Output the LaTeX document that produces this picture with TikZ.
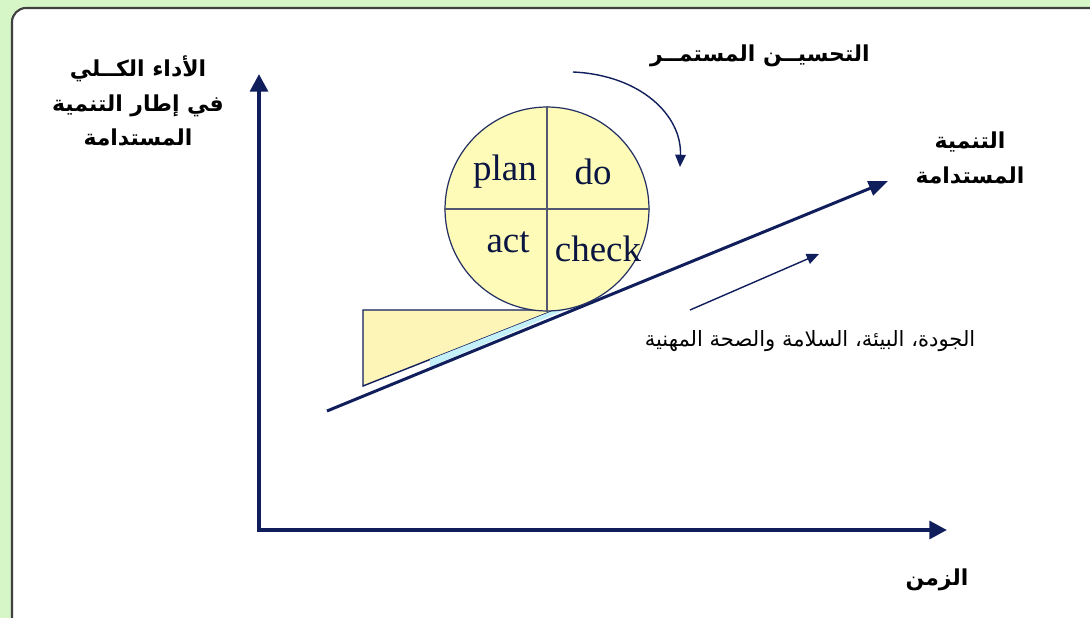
\documentclass[tikz,border=0pt]{standalone}
\usepackage{fontspec}
\setmainfont{Liberation Serif}
\newfontfamily\arabicfont[Script=Arabic]{DejaVu Sans}
\usetikzlibrary{arrows.meta}
\TeXXeTstate=1
\definecolor{axisblue}{RGB}{16,30,92}
\definecolor{cyclefill}{RGB}{253,251,183}
\definecolor{wedgefill}{RGB}{253,244,184}
\definecolor{slipfill}{RGB}{196,240,250}
\definecolor{framegreen}{RGB}{214,246,200}
\definecolor{framegray}{RGB}{64,64,64}
\tikzset{
  axis/.style={draw=axisblue, line width=2.3pt, line join=miter,
    {Triangle[length=10pt,width=10pt]}-{Triangle[length=10pt,width=10pt]}},
  trend/.style={draw=axisblue, line width=1.7pt, -{Triangle[length=11pt,width=8.5pt]}},
  thinarrow/.style={draw=axisblue, line width=0.8pt, -{Triangle[length=7pt,width=6pt]}},
  ar/.style={font=\arabicfont\bfseries\fontsize{12.5}{19.5}\selectfont, align=center},
  pdca/.style={font=\fontsize{21}{24}\selectfont, text=axisblue!70!black},
}
\begin{document}
\begin{tikzpicture}[x=0.02cm, y=-0.02cm]
  \useasboundingbox (0,0) rectangle (1090,618);
  \fill[framegreen] (0,0) rectangle (1090,618);
  \draw[framegray, line width=1.2pt, fill=white, rounded corners=8pt] (12,8) rectangle (1110,640);
  % axes
  \coordinate (o) at (259,530);
  \coordinate (ytop) at (259,74);
  \coordinate (xend) at (947,530);
  \draw[axis] (ytop) -- (o) -- (xend);
  % wedge under the wheel
  \filldraw[fill=wedgefill, draw=axisblue, line width=0.8pt] (363,310) -- (555,310) -- (363,386) -- cycle;
  \fill[slipfill] (430,359.5) -- (555,310) -- (565,310) -- (430,367) -- cycle;
  % slope
  \coordinate (ts) at (327,411);
  \coordinate (te) at (888,181);
  \draw[trend] (ts) -- (te);
  \coordinate (qs) at (690,310);
  \coordinate (qe) at (819,254);
  \draw[thinarrow] (qs) -- (qe);
  % PDCA wheel
  \node[circle, draw=axisblue!80!gray, line width=0.7pt, fill=cyclefill,
    minimum size=4.08cm, inner sep=0pt] (cyc) at (547,209) {};
  \draw[gray!60!axisblue, line width=0.8pt] (cyc.north) -- (cyc.south);
  \draw[gray!60!axisblue, line width=0.8pt] (cyc.west) -- (cyc.east);
  \node[pdca] (plan) at (505,172) {plan};
  \node[pdca] (do) at (593,172) {do};
  \node[pdca] (act) at (508,242) {act};
  \node[pdca] (check) at (598,249) {check};
  % improvement arrow
  \coordinate (cs) at (573,72);
  \coordinate (ce) at (680,167);
  \draw[thinarrow] (cs) .. controls (640,75) and (682,115) .. (ce);
  % labels
  \node[ar] (perf) at (138,101) {\beginR الأداء الكــلي\endR\\ \beginR في إطار التنمية\endR\\ \beginR المستدامة\endR};
  \node[ar] (kaizen) at (760,56) {\beginR التحسيــن المستمــر\endR};
  \node[ar] (sd) at (970,158) {\beginR التنمية\endR\\ \beginR المستدامة\endR};
  \node[ar, font=\arabicfont\fontsize{12}{14}\selectfont] (qhse) at (810,341) {\beginR الجودة، البيئة، السلامة والصحة المهنية\endR};
  \node[ar] (time) at (937,580) {\beginR الزمن\endR};
\end{tikzpicture}
\end{document}
